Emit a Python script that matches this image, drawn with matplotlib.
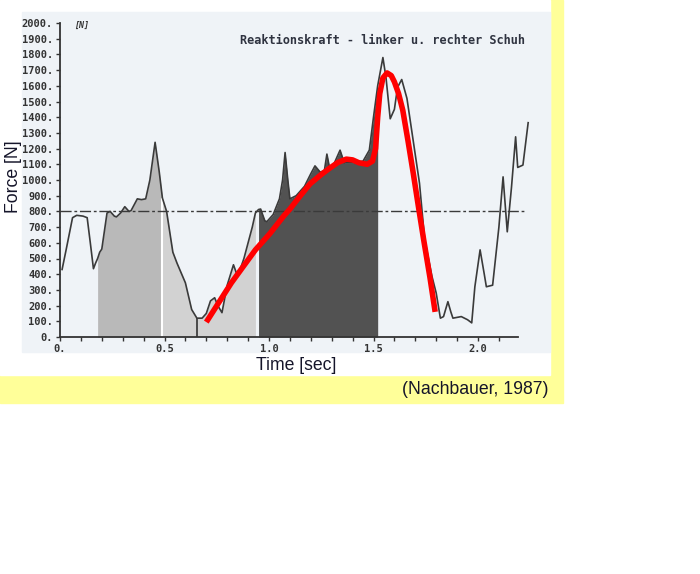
import matplotlib.pyplot as plt
from matplotlib.patches import Rectangle
import numpy as np

# force curve (time in s, force in N)
time_s = [0.01, 0.03, 0.06, 0.08, 0.11, 0.13, 0.145, 0.16, 0.17, 0.18,
          0.19, 0.20, 0.225, 0.24, 0.26, 0.27, 0.29, 0.31, 0.33, 0.34,
          0.37, 0.39, 0.41, 0.43, 0.455, 0.475, 0.49, 0.51, 0.54, 0.56,
          0.60, 0.63, 0.655, 0.68, 0.70, 0.72, 0.74, 0.755, 0.775, 0.80,
          0.83, 0.85, 0.88, 0.92, 0.935, 0.95, 0.96, 0.98, 0.99, 1.02,
          1.05, 1.065, 1.077, 1.09, 1.10, 1.13, 1.17, 1.20, 1.22, 1.245,
          1.265, 1.277, 1.29, 1.31, 1.34, 1.36, 1.40, 1.45, 1.48, 1.50,
          1.52, 1.545, 1.56, 1.58, 1.60, 1.615, 1.635, 1.66, 1.68, 1.72,
          1.745, 1.78, 1.80, 1.82, 1.835, 1.856, 1.87, 1.88, 1.92, 1.95,
          1.97, 1.985, 2.01, 2.03, 2.04, 2.07, 2.10, 2.12, 2.14, 2.16,
          2.18, 2.19, 2.215, 2.24]
force_n = [430, 560, 760, 775, 770, 760, 600, 435, 470, 500,
           540, 560, 790, 800, 770, 765, 790, 830, 800, 805,
           880, 875, 880, 1000, 1240, 1050, 885, 800, 540, 470,
           345, 175, 120, 120, 150, 230, 250, 200, 155, 330,
           460, 385, 500, 700, 790, 812, 815, 740, 735, 780,
           880, 1000, 1175, 1000, 880, 900, 960, 1040, 1090, 1050,
           1060, 1165, 1075, 1100, 1190, 1110, 1110, 1120, 1190, 1400,
           1600, 1780, 1650, 1390, 1450, 1590, 1640, 1520, 1340, 980,
           620, 385, 280, 120, 130, 225, 160, 120, 130, 110,
           90, 320, 555, 400, 320, 330, 700, 1020, 670, 950,
           1275, 1080, 1095, 1365]

# hand-drawn red trend
red_t = [0.70, 0.76, 0.82, 0.88, 0.935, 1.005, 1.07, 1.10, 1.15, 1.196,
         1.25, 1.29, 1.33, 1.37, 1.40, 1.43, 1.47, 1.495, 1.51, 1.52,
         1.53, 1.545, 1.565, 1.585, 1.60, 1.62, 1.64, 1.665, 1.69, 1.715,
         1.74, 1.77, 1.795]
red_f = [95, 220, 345, 455, 555, 660, 770, 815, 900, 975,
         1035, 1075, 1112, 1133, 1128, 1110, 1100, 1120, 1200, 1400,
         1550, 1650, 1682, 1665, 1625, 1550, 1445, 1250, 1045, 830,
         620, 380, 160]

# shaded phases (start, end, colour)
phase_start = [0.18, 0.49, 0.95]
phase_end = [0.49, 0.935, 1.52]
phase_color = ["#b9b9b9", "#d2d2d2", "#525252"]

y_ticks = list(range(0, 2001, 100))
y_labels = [f"{v}." for v in y_ticks]
x_ticks = [0, 0.5, 1.0, 1.5, 2.0]
x_labels = ["0.", "0.5", "1.0", "1.5", "2.0"]

W, H = 700, 574


def fx(px):
    return px / W


def fy(py):
    return 1 - py / H


fig = plt.figure(figsize=(7, 5.74), dpi=100)
fig.patch.set_facecolor("white")

# yellow slide box, white picture area, bluish scan
fig.patches.append(Rectangle((fx(0), fy(403)), fx(563), 403 / H,
                             transform=fig.transFigure, color="#ffff99", zorder=-3))
fig.patches.append(Rectangle((fx(0), fy(375)), fx(550), 375 / H,
                             transform=fig.transFigure, color="white", zorder=-2))
fig.patches.append(Rectangle((fx(22), fy(352)), fx(528), 340 / H,
                             transform=fig.transFigure, color="#eff3f7", zorder=-1))

px_per_s = 209
ax = fig.add_axes([fx(60), fy(337), 2.26 * px_per_s / W, 314 / H])
ax.set_zorder(2)
ax.set_facecolor("none")
ax.set_xlim(0, 2.26)
ax.set_ylim(0, 2000)

t = np.array(time_s)
f = np.array(force_n)
for s, e, c in zip(phase_start, phase_end, phase_color):
    ax.fill_between(t, 0, f, where=(t >= s) & (t <= e), color=c, lw=0, zorder=1)
ax.vlines(0.49, 0, 885, color="white", lw=1.5, zorder=2)
ax.vlines(0.655, 0, 120, color="#333333", lw=1.2, zorder=2)

ax.plot(time_s, force_n, color="#3a3a3a", lw=1.2, zorder=3)
ax.axhline(800, xmax=2.22 / 2.26, color="#3a3a3a", lw=1.0,
           linestyle=(0, (8, 2, 2, 2)), zorder=3)
ax.plot(red_t, red_f, color="red", lw=4, solid_joinstyle="round",
        solid_capstyle="butt", zorder=4)

for side in ["top", "right"]:
    ax.spines[side].set_visible(False)
ax.spines["left"].set_color("#333333")
ax.spines["bottom"].set_color("#333333")
ax.spines["left"].set_linewidth(1.3)
ax.spines["bottom"].set_linewidth(1.3)
ax.spines["bottom"].set_bounds(0, 2.19)

mono = {"family": "DejaVu Sans Mono", "weight": "bold", "size": 7.5, "color": "#333333"}
ax.set_yticks(y_ticks)
ax.set_yticklabels(y_labels, fontdict=mono)
ax.set_xticks(x_ticks)
ax.set_xticklabels(x_labels, fontdict=mono)
ax.set_xticks(np.arange(0, 2.2, 0.1), minor=True)
ax.tick_params(axis="both", which="both", length=3, width=1, color="#333333", pad=2)

fig.text(fx(74), fy(25), "[N]", family="DejaVu Sans Mono", style="italic",
         weight="bold", size=6, color="#333333", va="center")
fig.text(fx(240), fy(40), "Reaktionskraft - linker u. rechter Schuh",
         family="DejaVu Sans Mono", weight="bold", size=8.6, color="#2f3340",
         va="center")

sans = {"family": "Liberation Sans", "size": 12.7, "color": "#15152a"}
fig.text(fx(13), fy(177), "Force [N]", rotation=90, ha="center", va="center", **sans)
fig.text(fx(296), fy(366), "Time [sec]", ha="center", va="center", **sans)
fig.text(fx(548), fy(390), "(Nachbauer, 1987)", ha="right", va="center", **sans)

fig.savefig("out.png", dpi=100)
